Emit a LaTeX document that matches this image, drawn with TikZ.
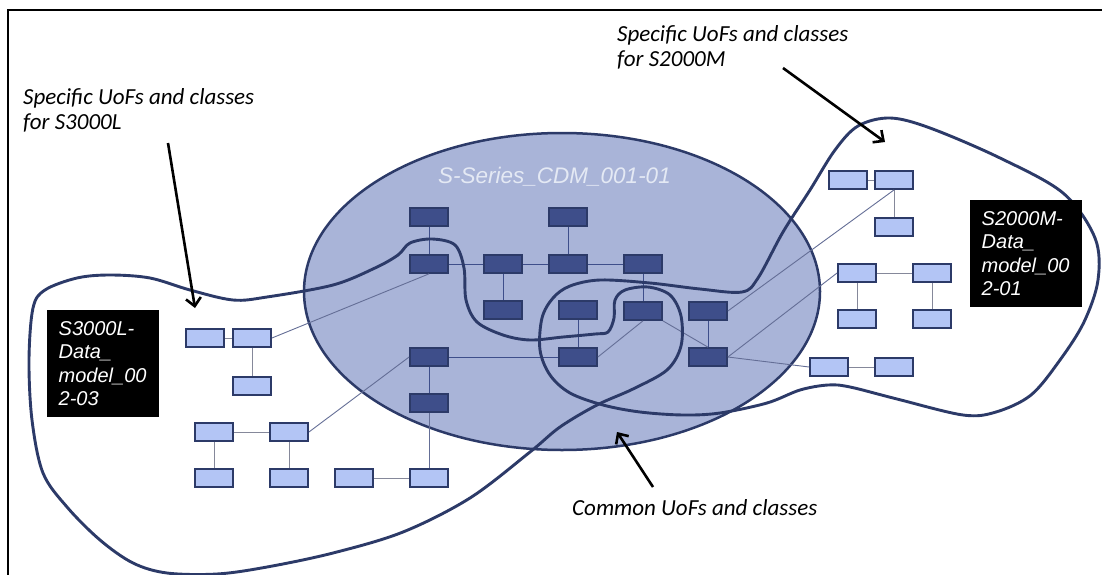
\documentclass[tikz,border=0pt]{standalone}
\usepackage{fontspec}
\setmainfont{Carlito}
\newfontfamily\arialfont{Liberation Sans}
\usetikzlibrary{arrows.meta}
\definecolor{navy}{HTML}{2C3A68}
\definecolor{ellfill}{HTML}{A9B4D8}
\definecolor{darkbox}{HTML}{3E4E8A}
\definecolor{lightbox}{HTML}{B3C5F5}
\definecolor{graylink}{HTML}{85889A}
\definecolor{crosslink}{HTML}{646E96}
\definecolor{titlecol}{HTML}{E4E9F4}
\begin{document}
\begin{tikzpicture}[x=1pt,y=-1pt,
  dbox/.style={draw=navy, fill=darkbox, line width=2.2pt, minimum width=37.5pt, minimum height=17.5pt, inner sep=0pt},
  lbox/.style={draw=navy, fill=lightbox, line width=2.4pt, minimum width=37.5pt, minimum height=17.5pt, inner sep=0pt},
  inlink/.style={draw=darkbox, line width=1pt},
  outlink/.style={draw=graylink, line width=1pt},
  xlink/.style={draw=crosslink, line width=0.9pt},
  blob/.style={draw=navy, line width=2.9pt},
  pointer/.style={draw=black, line width=2.6pt, -{Straight Barb[length=8pt,width=15pt]}},
  note/.style={font=\fontsize{23}{25.5}\selectfont\itshape, inner sep=0pt, align=left},
  blackbox/.style={fill=black, text=white, font=\arialfont\fontsize{20}{23.3}\selectfont\itshape, text width=89pt, inner xsep=11.5pt, inner ysep=0pt, minimum height=107pt, align=left},
  titlestyle/.style={text=titlecol, font=\arialfont\fontsize{22.5}{26}\selectfont\itshape, inner sep=0pt},
]
\useasboundingbox (0,0) rectangle (1102,575);
\fill[white] (0,0) rectangle (1102,575);
% frame
\draw[black, line width=2pt] (8,580) -- (8,10) -- (1106,10);

% central ellipse
\filldraw[fill=ellfill, draw=navy, line width=2.5pt] (562,291.5) ellipse [x radius=258, y radius=158.5];
\node[titlestyle, anchor=base] (cdm) at (554.5,183.5) {S-Series\_CDM\_001-01};

% dark boxes
\node[dbox] (d1) at (429,217) {};
\node[dbox] (d2) at (568,217) {};
\node[dbox] (d3) at (429,264) {};
\node[dbox] (d4) at (503,264) {};
\node[dbox] (d5) at (568,264) {};
\node[dbox] (d6) at (643,264) {};
\node[dbox] (d7) at (503,310) {};
\node[dbox] (d8) at (578,310) {};
\node[dbox] (d9) at (643,311) {};
\node[dbox] (d10) at (708,311) {};
\node[dbox] (d11) at (429,357) {};
\node[dbox] (d12) at (578,357) {};
\node[dbox] (d13) at (708,357) {};
\node[dbox] (d14) at (429,403) {};

% light boxes left
\node[lbox] (L1) at (205,338) {};
\node[lbox] (L2) at (252,338) {};
\node[lbox] (L3) at (252,386) {};
\node[lbox] (L4) at (214,432) {};
\node[lbox] (L5) at (289,432) {};
\node[lbox] (L6) at (214,478) {};
\node[lbox] (L7) at (289,478) {};
\node[lbox] (L8) at (354,478) {};
\node[lbox] (L9) at (429,478) {};

% light boxes right
\node[lbox] (R1) at (848,180) {};
\node[lbox] (R2) at (894,180) {};
\node[lbox] (R3) at (894,227) {};
\node[lbox] (R4) at (857,273) {};
\node[lbox] (R5) at (932,273) {};
\node[lbox] (R6) at (857,319) {};
\node[lbox] (R7) at (932,319) {};
\node[lbox] (R8) at (829,367) {};
\node[lbox] (R9) at (894,367) {};

% links
\path[inlink] (d1) -- (d3);
\path[inlink] (d3) -- (d4);
\path[inlink] (d4) -- (d5);
\path[inlink] (d5) -- (d6);
\path[inlink] (d2) -- (d5);
\path[inlink] (d4) -- (d7);
\path[inlink] (d6) -- (d9);
\path[inlink] (d8) -- (d12);
\path[inlink] (d10) -- (d13);
\path[inlink] (d11) -- (d12);
\path[inlink] (d11) -- (d14);
\path[xlink] (d9.south east) -- (d13.north);
\path[xlink] (d12.east) -- (d9.south);
\path[xlink] (d14) -- (L9);
\path[outlink] (L1) -- (L2);
\path[outlink] (L2) -- (L3);
\path[outlink] (L4) -- (L5);
\path[outlink] (L4) -- (L6);
\path[outlink] (L5) -- (L7);
\path[outlink] (L8) -- (L9);
\path[xlink] (L2.east) -- (d3.south);
\path[xlink] (L5.east) -- (d11.west);
\path[outlink] (R1) -- (R2);
\path[outlink] (R2) -- (R3);
\path[outlink] (R4) -- (R5);
\path[outlink] (R4) -- (R6);
\path[outlink] (R5) -- (R7);
\path[outlink] (R8) -- (R9);
\path[xlink] (d10.east) -- (R2.south);
\path[xlink] (d13.east) -- (R4.west);
\path[xlink] (d13.east) -- (R8.west);

% left region (S3000L)
\draw[blob] plot[smooth cycle, tension=0.55] coordinates {
 (45,290) (77,278) (110,275) (150,278) (190,290) (233,300) (267,297) (333,285)
 (375,268) (398,255) (410,243) (432,239) (455,245) (464,268) (466,300) (477,322)
 (503,335) (530,340) (563,337) (595,334) (608,332) (614,318) (615,300) (625,290)
 (648,287) (670,295) (681,316) (681,346) (667,370) (633,389) (597,405) (560,427)
 (530,452) (470,498) (403,532) (333,553) (267,567) (217,574) (167,573) (133,563)
 (100,540) (67,507) (43,473) (32,420) (29,360) (33,308)};

% right region (S2000M)
\draw[blob] plot[smooth cycle, tension=0.55] coordinates {
 (742,292) (758,278) (783,232) (810,190) (835,150) (858,126) (890,118) (930,128)
 (1000,158) (1063,193) (1095,238) (1098,280) (1084,322) (1060,360) (1031,395)
 (996,412) (963,415) (897,399) (850,387) (828,385) (800,390) (767,403) (720,413)
 (683,415) (640,412) (603,405) (570,393) (550,375) (540,350) (542,318) (553,298)
 (570,286) (600,280) (650,283) (700,289)};

% black labels
\node[blackbox, anchor=north west] (lbl3000) at (47,310) {S3000L-\\Data\_\\model\_00\\2-03};
\node[blackbox, anchor=north west] (lbl2000) at (970,200) {S2000M-\\Data\_\\model\_00\\2-01};

% annotations
\node[note, anchor=north west] (n3000) at (23,88) {Specific UoFs and classes\\for S3000L};
\node[note, anchor=north west] (n2000) at (617,25) {Specific UoFs and classes\\for S2000M};
\node[note, anchor=base west] (ncommon) at (572,515) {Common UoFs and classes};

\coordinate (a1s) at (168,143);
\coordinate (a1e) at (195,308);
\coordinate (a2s) at (783,68);
\coordinate (a2e) at (885,142);
\coordinate (a3s) at (653,487);
\coordinate (a3e) at (617,432);
\draw[pointer] (a1s) -- (a1e);
\draw[pointer] (a2s) -- (a2e);
\draw[pointer] (a3s) -- (a3e);
\end{tikzpicture}
\end{document}
